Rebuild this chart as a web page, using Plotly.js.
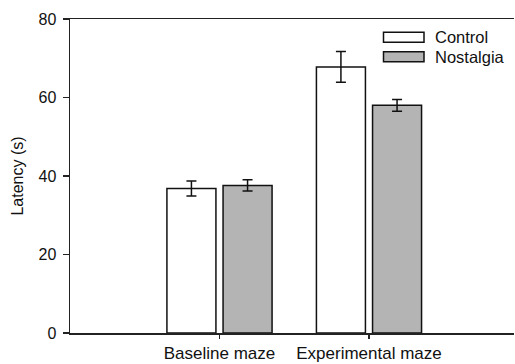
<!DOCTYPE html>
<html>
<head>
<meta charset="utf-8">
<script src="https://cdn.plot.ly/plotly-3.0.1.min.js"></script>
<style>html,body{margin:0;padding:0;background:#fff;}#chart{width:515px;height:364px;}</style>
</head>
<body>
<div id="chart"></div>
<script>
var categories = ["Baseline maze", "Experimental maze"];
var seriesNames = ["Control", "Nostalgia"];
var controlValues = [36.8, 67.8];
var controlErrors = [1.9, 3.9];
var nostalgiaValues = [37.6, 58.0];
var nostalgiaErrors = [1.45, 1.5];
var yTicks = [0, 20, 40, 60, 80];

var FONT = "Arial, 'Liberation Sans', sans-serif";
var xIdx = categories.map(function (_, i) { return i; });

function barTrace(name, vals, errs, fill) {
  return {
    type: "bar", name: name, x: xIdx, y: vals,
    marker: { color: fill, line: { color: "#111", width: 1.5 } },
    error_y: { type: "data", array: errs, visible: true, color: "#111", thickness: 1.5, width: 5 },
    showlegend: false
  };
}

var data = [
  barTrace(seriesNames[0], controlValues, controlErrors, "#ffffff"),
  barTrace(seriesNames[1], nostalgiaValues, nostalgiaErrors, "#b4b4b4")
];

// manual legend (pixel -> paper conversion)
var L = 70, R = 514, T = 19, B = 333;
function px(x) { return (x - L) / (R - L); }
function py(y) { return (B - y) / (B - T); }
var legendFills = ["#ffffff", "#b4b4b4"];
var legendRows = [37.3, 56.7];
var shapes = [], annotations = [];
seriesNames.forEach(function (n, i) {
  shapes.push({ type: "rect", xref: "paper", yref: "paper",
    x0: px(383.5), x1: px(424), y0: py(legendRows[i] - 5), y1: py(legendRows[i] + 5),
    fillcolor: legendFills[i], line: { color: "#111", width: 1.5 } });
  annotations.push({ xref: "paper", yref: "paper", x: px(433), y: py(legendRows[i]),
    xanchor: "left", yanchor: "middle", text: n, showarrow: false,
    font: { family: FONT, size: 16.5, color: "#111" } });
});

var layout = {
  width: 515, height: 364,
  margin: { l: L, r: 515 - R, t: T, b: 364 - B, pad: 0 },
  paper_bgcolor: "#fff", plot_bgcolor: "#fff",
  barmode: "group", bargap: 0.249, bargroupgap: 0.127,
  font: { family: FONT, color: "#111" },
  xaxis: {
    range: [-1.0, 1.97], tickvals: xIdx, ticktext: categories,
    showgrid: false, zeroline: false, showline: true, linecolor: "#222", linewidth: 1.5,
    mirror: true, ticks: "outside", ticklen: 4, tickwidth: 1.2, tickcolor: "#222",
    tickfont: { family: FONT, size: 17, color: "#111" }
  },
  yaxis: {
    range: [0, 80], tickvals: yTicks, ticktext: yTicks.map(String),
    showgrid: false, zeroline: false, showline: true, linecolor: "#222", linewidth: 1.5,
    ticks: "outside", ticklen: 6, tickwidth: 1.2, tickcolor: "#222", ticklabelstandoff: 3,
    tickfont: { family: FONT, size: 16, color: "#111" },
    title: { text: "Latency (s)", font: { family: FONT, size: 16, color: "#111" }, standoff: 11 }
  },
  shapes: shapes, annotations: annotations
};

Plotly.newPlot("chart", data, layout, { staticPlot: true, displayModeBar: false });
</script>
</body>
</html>
